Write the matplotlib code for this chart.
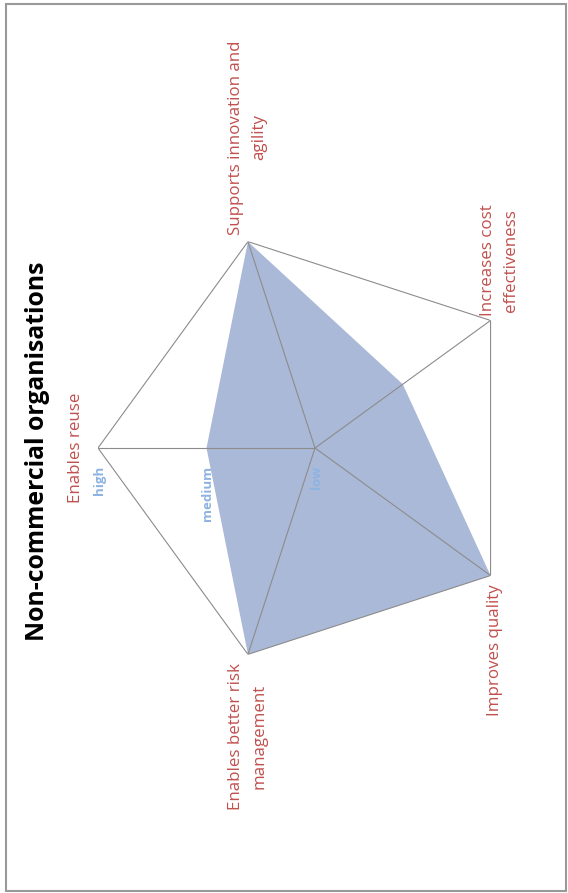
import numpy as np
import matplotlib.pyplot as plt
from matplotlib.patches import Rectangle

plt.rcParams['font.family'] = ['Open Sans', 'DejaVu Sans']

# data
title = 'Non-commercial organisations'
categories = ['Enables reuse', 'Supports innovation and\nagility', 'Increases cost\neffectiveness',
              'Improves quality', 'Enables better risk\nmanagement']
values = [1, 2, 1, 2, 2]
levels = ['low', 'medium', 'high']

# label placement (offset in points, alignment)
lab_off = [(-10, 0, 'right', 'center'), (0, 5, 'center', 'bottom'), (6.5, 3, 'center', 'bottom'),
           (3, -6, 'center', 'top'), (0, -6, 'center', 'top')]

red = '#c0504d'
blue = '#8db3e2'
fill_col = '#aab9d7'
grid_col = '#8c8c8c'

fig = plt.figure(figsize=(5.68, 8.93), dpi=100)
ax = fig.add_axes([98/568, 228/893, 434/568, 434/893], projection='polar')
ax.set_theta_offset(np.pi)
ax.set_theta_direction(-1)

n = len(categories)
ang = np.arange(n) * 2*np.pi/n
ang_c = np.append(ang, ang[0])
rmax = len(levels) - 1

ax.fill(ang_c, values + values[:1], color=fill_col, lw=0, zorder=1)
ax.plot(ang_c, [rmax]*(n+1), color=grid_col, lw=0.8, zorder=2)
for a in ang:
    ax.plot([a, a], [0, rmax], color=grid_col, lw=0.8, zorder=2)

ax.set_ylim(0, rmax)
ax.set_xticks([])
ax.set_yticks([])
ax.grid(False)
ax.spines['polar'].set_visible(False)
ax.patch.set_visible(False)

for a, lab, (dx, dy, ha, va) in zip(ang, categories, lab_off):
    ax.annotate(lab, xy=(a, rmax), xytext=(dx, dy), textcoords='offset points',
                rotation=90, ha=ha, va=va, color=red, fontsize=12.2,
                linespacing=1.6, multialignment='center', annotation_clip=False)

for i, lv in enumerate(levels):
    ax.annotate(lv, xy=(0, i), xytext=(1, -13), textcoords='offset points',
                rotation=90, ha='center', va='top', color=blue, fontsize=9.5,
                fontweight='bold', annotation_clip=False)

fig.text(38/568, 1 - 451/893, title, rotation=90, ha='center', va='center',
         fontsize=17.8, fontweight='bold', color='black')

fig.patches.append(Rectangle((6/568, 2/893), 560/568, 887/893, transform=fig.transFigure,
                             fill=False, edgecolor='#999999', lw=1.5))

fig.savefig('out.png', dpi=100)
